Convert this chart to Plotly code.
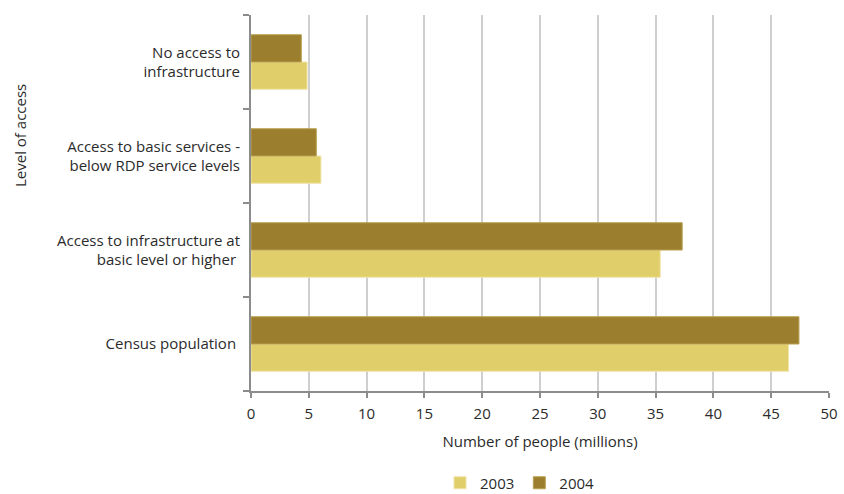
import plotly.graph_objects as go

categories = [
    "Census population ",
    "Access to infrastructure at<br>basic level or higher ",
    "Access to basic services -<br>below RDP service levels",
    "No access to<br>infrastructure",
]
values_2003 = [46.5, 35.4, 6.05, 4.85]
values_2004 = [47.4, 37.3, 5.65, 4.35]
x_ticks = [0, 5, 10, 15, 20, 25, 30, 35, 40, 45, 50]

c2003 = "#E0CE6B"
c2004 = "#9B7F2F"

fig = go.Figure()
fig.add_trace(go.Bar(y=categories, x=values_2003, orientation="h", name="2003",
                     marker=dict(color=c2003, line=dict(color="#F0E4A8", width=1))))
fig.add_trace(go.Bar(y=categories, x=values_2004, orientation="h", name="2004",
                     marker=dict(color=c2004, line=dict(color="#B8A050", width=1))))

font = dict(family="Open Sans, Lato, sans-serif", size=15, color="#2b2b2b")

L, R, T, B = 251, 15, 15, 103
pw = 844 - L - R
ph = 494 - T - B

fig.update_layout(
    width=844, height=494,
    margin=dict(l=L, r=R, t=T, b=B, autoexpand=False),
    paper_bgcolor="white", plot_bgcolor="white",
    barmode="group", bargap=0.42, bargroupgap=0,
    font=font,
    showlegend=True,
    legend=dict(orientation="h", x=(520 - L) / pw, xanchor="center",
                y=-(483 - (T + ph)) / ph, yanchor="middle",
                traceorder="normal", font=font, itemwidth=30),
    xaxis=dict(range=[0, 50], tickvals=x_ticks, ticktext=[str(t) for t in x_ticks],
               showgrid=True, gridcolor="#CFCFCF", gridwidth=2,
               showline=True, linecolor="#8C8C8C", linewidth=2,
               ticks="outside", ticklen=5, tickcolor="#8C8C8C", tickwidth=2,
               zeroline=False, tickfont=font, automargin=False,
               ticklabelstandoff=3,
               title=dict(text="Number of people (millions)", font=font, standoff=14)),
    yaxis=dict(showline=True, linecolor="#8C8C8C", linewidth=2,
               ticks="outside", ticklen=6, tickcolor="#8C8C8C", tickwidth=2,
               tickson="boundaries", showgrid=False, tickfont=font,
               ticklabelstandoff=6, automargin=False),
)
fig.add_annotation(text="Level of access", x=-(L - 20) / pw, y=1 - (136 - T) / ph,
                   xref="paper", yref="paper", xanchor="center", yanchor="middle",
                   showarrow=False, textangle=-90, font=font)
fig.write_html("out.html", config={"displayModeBar": False},
               post_script="document.body.style.margin='0';document.body.style.overflow='hidden';")
